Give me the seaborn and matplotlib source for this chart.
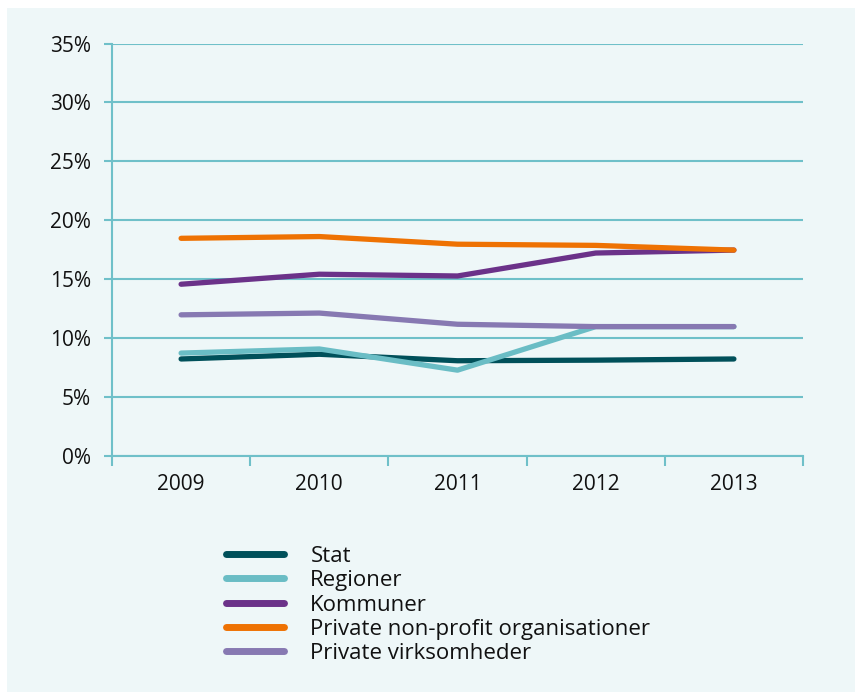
import matplotlib
matplotlib.use("Agg")
import matplotlib.pyplot as plt
import matplotlib.patches as mpatches
from matplotlib.ticker import FixedLocator, FuncFormatter
import seaborn as sns
import pandas as pd

years = ["2009", "2010", "2011", "2012", "2013"]
series_names = ["Stat", "Regioner", "Kommuner",
                "Private non-profit organisationer", "Private virksomheder"]
stat = [8.2, 8.6, 8.05, 8.1, 8.2]
regioner = [8.7, 9.05, 7.25, 10.95, 10.95]
kommuner = [14.55, 15.4, 15.25, 17.2, 17.45]
nonprofit = [18.45, 18.6, 17.95, 17.85, 17.45]
virksomheder = [11.95, 12.1, 11.15, 10.95, 10.95]
colors = ["#00505A", "#6ABDC5", "#6B3289", "#EE7203", "#8779B2"]
y_ticks = [0, 5, 10, 15, 20, 25, 30, 35]

values = [stat, regioner, kommuner, nonprofit, virksomheder]
rows = []
for name, vals in zip(series_names, values):
    for i, (yr, v) in enumerate(zip(years, vals)):
        rows.append({"idx": i, "year": yr, "value": v, "serie": name})
df = pd.DataFrame(rows)

sns.set_style("white")
plt.rcParams["font.family"] = ["Open Sans", "DejaVu Sans"]

bg = "#EEF7F8"
gridc = "#6FC0C9"
txtc = "#111111"
FS = 15
W, H = 855, 692
fig = plt.figure(figsize=(W / 100, H / 100), dpi=100, facecolor=bg)
# white margins at top and left
fig.patches.append(mpatches.Rectangle((0, 1 - 8 / H), 1, 8 / H, transform=fig.transFigure,
                                      facecolor="white", edgecolor="none", zorder=-10))
fig.patches.append(mpatches.Rectangle((0, 0), 7 / W, 1, transform=fig.transFigure,
                                      facecolor="white", edgecolor="none", zorder=-10))
ax = fig.add_axes([112 / W, 1 - 455.5 / H, (803 - 112) / W, (455.5 - 43.5) / H])
ax.set_facecolor(bg)

sns.lineplot(data=df, x="idx", y="value", hue="serie", hue_order=series_names,
             palette=colors, linewidth=3.8, ax=ax, legend=True, sort=False)
for ln in ax.lines:
    ln.set_solid_capstyle("round")
    ln.set_solid_joinstyle("round")

ax.set_xlim(-0.5, 4.5)
ax.set_ylim(0, 35)
ax.set_yticks(y_ticks)
ax.yaxis.set_major_formatter(FuncFormatter(lambda v, p: f"{int(v)}%"))
ax.xaxis.set_major_locator(FixedLocator([i - 0.5 for i in range(len(years) + 1)]))
ax.xaxis.set_major_formatter(FuncFormatter(lambda v, p: ""))
ax.xaxis.set_minor_locator(FixedLocator(list(range(len(years)))))
ax.xaxis.set_minor_formatter(FuncFormatter(lambda v, p: years[int(round(v))]))
ax.tick_params(axis="x", which="both", bottom=True)
ax.tick_params(axis="x", which="major", length=7, width=1.5, color=gridc, direction="out")
ax.tick_params(axis="x", which="minor", length=0, pad=13, labelsize=FS, labelcolor=txtc)
ax.tick_params(axis="y", which="major", left=True, length=6, width=1.5, color=gridc,
               direction="out", pad=9, labelsize=FS, labelcolor=txtc)
ax.grid(axis="y", color=gridc, linewidth=1.5)
ax.set_axisbelow(True)
for s in ["top", "right"]:
    ax.spines[s].set_visible(False)
for s in ["left", "bottom"]:
    ax.spines[s].set_color(gridc)
    ax.spines[s].set_linewidth(1.5)
ax.set_xlabel("")
ax.set_ylabel("")

handles, labels = ax.get_legend_handles_labels()
ax.get_legend().remove()
LFS = 16
leg = fig.legend(handles, labels, loc="upper left", bbox_to_anchor=(217 / W, 1 - 537 / H),
                 frameon=False, fontsize=LFS, handlelength=2.6, handletextpad=1.2,
                 labelspacing=0.15, borderaxespad=0, labelcolor=txtc)
for h in leg.get_lines():
    h.set_linewidth(5)
    h.set_solid_capstyle("round")

fig.savefig("out.png", dpi=100, facecolor=bg)
